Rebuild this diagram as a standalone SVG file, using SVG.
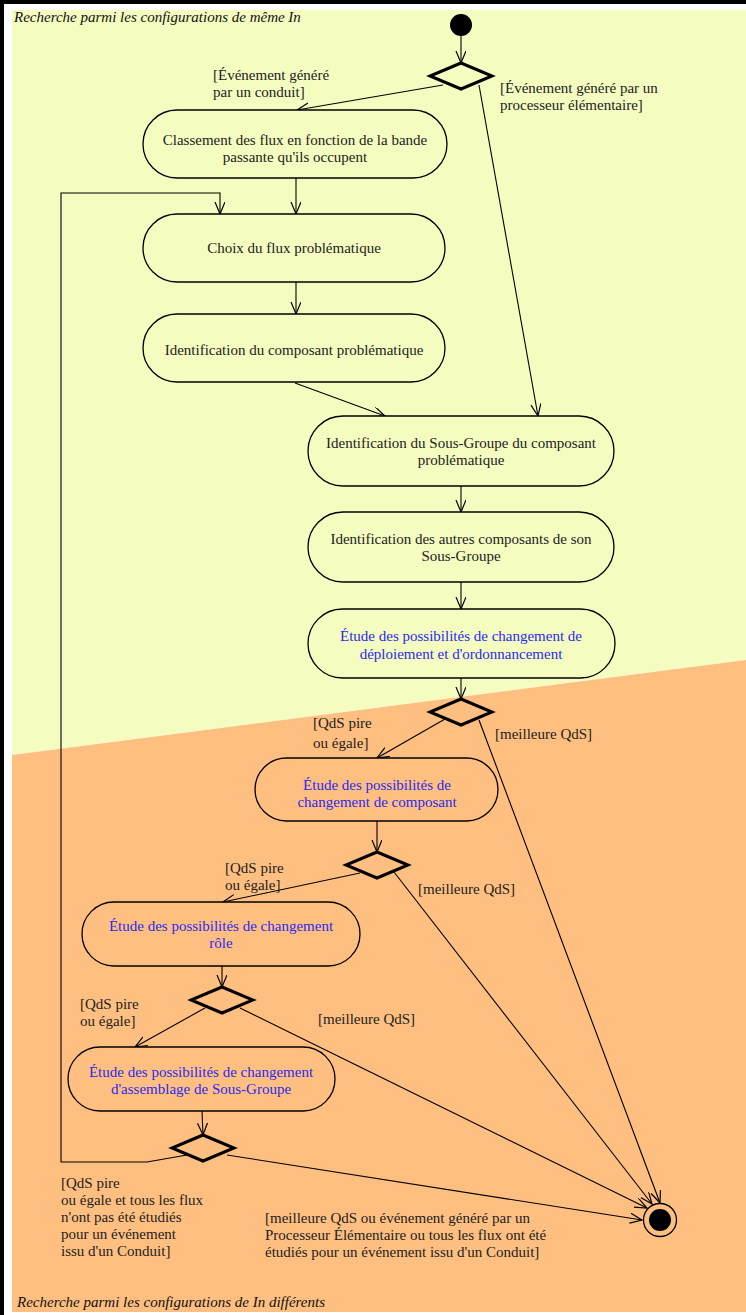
<svg xmlns="http://www.w3.org/2000/svg" width="746" height="1315" viewBox="0 0 746 1315">
<defs>
<marker id="arr" markerWidth="14" markerHeight="12" refX="12" refY="5" orient="auto" markerUnits="userSpaceOnUse">
<path d="M0,0 L12,5 L0,10" fill="none" stroke="#000" stroke-width="1.2"/>
</marker>
</defs>
<style>
.t{font-family:"Liberation Serif","Times New Roman",serif;font-size:15px;fill:#222}
.c{text-anchor:middle}
.b{fill:#2a2af2}
.i{font-style:italic;fill:#111}
.n{stroke:#000;stroke-width:1.3}
.ny{fill:#f5fcc0}
.no{fill:#ffbf80}
.d{stroke:#000;stroke-width:3;fill:none}
.e{stroke:#000;stroke-width:1.1;fill:none;marker-end:url(#arr)}
</style>
<rect x="0" y="0" width="746" height="1315" fill="#fff"/>
<polygon points="12,10 746,10 746,660 12,755" fill="#f5fcc0"/>
<polygon points="12,755 746,660 746,1312 12,1312" fill="#ffbf80"/>
<line x1="2" y1="0" x2="2" y2="1315" stroke="#000" stroke-width="4"/>
<line x1="0" y1="2" x2="746" y2="2" stroke="#000" stroke-width="4"/>
<text class="t i" x="14" y="22">Recherche parmi les configurations de même In</text>
<text class="t i" x="17" y="1307">Recherche parmi les configurations de In différents</text>

<g id="connectors">
<line class="e" x1="461" y1="36" x2="461" y2="63"/>
<line class="e" x1="443" y1="85" x2="297" y2="110"/>
<line class="e" x1="479" y1="85" x2="538" y2="416"/>
<line class="e" x1="296" y1="178" x2="296" y2="214"/>
<polyline class="e" points="187,1155 147,1162 61,1162 61,193 220,193 220,214"/>
<line class="e" x1="296" y1="282" x2="296" y2="314"/>
<line class="e" x1="295" y1="383" x2="385" y2="416"/>
<line class="e" x1="461" y1="486" x2="461" y2="512"/>
<line class="e" x1="461" y1="582" x2="461" y2="609"/>
<line class="e" x1="461" y1="678" x2="461" y2="699"/>
<line class="e" x1="445" y1="719" x2="377" y2="758"/>
<line class="e" x1="479" y1="720" x2="660" y2="1203"/>
<line class="e" x1="377" y1="821" x2="377" y2="852"/>
<line class="e" x1="360" y1="873" x2="223" y2="902"/>
<line class="e" x1="394" y1="872" x2="652" y2="1204"/>
<line class="e" x1="222" y1="966" x2="222" y2="987"/>
<line class="e" x1="205" y1="1008" x2="135" y2="1047"/>
<line class="e" x1="240" y1="1008" x2="647" y2="1208"/>
<line class="e" x1="202" y1="1111" x2="203" y2="1135"/>
<line class="e" x1="227" y1="1155" x2="642" y2="1220"/>
</g>

<g id="labels">
<text class="t" x="213" y="80">[Événement généré</text>
<text class="t" x="213" y="97">par un conduit]</text>
<text class="t" x="500" y="93">[Événement généré par un</text>
<text class="t" x="500" y="110">processeur élémentaire]</text>
<text class="t" x="313" y="728">[QdS pire</text>
<text class="t" x="313" y="748">ou égale]</text>
<text class="t" x="495" y="739">[meilleure QdS]</text>
<text class="t" x="225" y="873">[QdS pire</text>
<text class="t" x="225" y="890">ou égale]</text>
<text class="t" x="418" y="894">[meilleure QdS]</text>
<text class="t" x="80" y="1009">[QdS pire</text>
<text class="t" x="80" y="1026">ou égale]</text>
<text class="t" x="318" y="1024">[meilleure QdS]</text>
<text class="t" x="61" y="1188">[QdS pire</text>
<text class="t" x="61" y="1205">ou égale et tous les flux</text>
<text class="t" x="61" y="1222">n'ont pas été étudiés</text>
<text class="t" x="61" y="1239">pour un événement</text>
<text class="t" x="61" y="1256">issu d'un Conduit]</text>
<text class="t" x="265" y="1223">[meilleure QdS ou événement généré par un</text>
<text class="t" x="265" y="1240">Processeur Élémentaire ou tous les flux ont été</text>
<text class="t" x="265" y="1257">étudiés pour un événement issu d'un Conduit]</text>
</g>

<g id="start"><circle cx="461" cy="25" r="11" fill="#000"/></g>
<g id="dec1"><polygon class="d" points="461,63 492,76 461,89 430,76"/></g>
<g id="n-classement">
<rect class="n ny" x="143" y="110" width="304" height="68" rx="34"/>
<text class="t c" x="295" y="145">Classement des flux en fonction de la bande</text>
<text class="t c" x="295" y="162">passante qu'ils occupent</text>
</g>
<g id="n-choix">
<rect class="n ny" x="143" y="214" width="302" height="68" rx="34"/>
<text class="t c" x="294" y="253">Choix du flux problématique</text>
</g>
<g id="n-idcomp">
<rect class="n ny" x="143" y="314" width="302" height="68" rx="34"/>
<text class="t c" x="294" y="355">Identification du composant problématique</text>
</g>
<g id="n-idsg">
<rect class="n ny" x="308" y="416" width="306" height="70" rx="35"/>
<text class="t c" x="461" y="448">Identification du Sous-Groupe du composant</text>
<text class="t c" x="461" y="465">problématique</text>
</g>
<g id="n-autres">
<rect class="n ny" x="308" y="512" width="306" height="70" rx="35"/>
<text class="t c" x="461" y="544">Identification des autres composants de son</text>
<text class="t c" x="461" y="561">Sous-Groupe</text>
</g>
<g id="n-deploiement">
<rect class="n ny" x="308" y="609" width="307" height="69" rx="34.5"/>
<text class="t c b" x="461" y="641">Étude des possibilités de changement de</text>
<text class="t c b" x="461" y="659">déploiement et d'ordonnancement</text>
</g>
<g id="dec2"><polygon class="d" points="461,699 492,712 461,725 430,712"/></g>
<g id="n-composant">
<rect class="n no" x="255" y="758" width="243" height="63" rx="31.5"/>
<text class="t c b" x="377" y="790">Étude des possibilités de</text>
<text class="t c b" x="377" y="807">changement de composant</text>
</g>
<g id="dec3"><polygon class="d" points="377,852 408,865 377,878 346,865"/></g>
<g id="n-role">
<rect class="n no" x="82" y="902" width="278" height="64" rx="32"/>
<text class="t c b" x="221" y="931">Étude des possibilités de changement</text>
<text class="t c b" x="221" y="948">rôle</text>
</g>
<g id="dec4"><polygon class="d" points="222,987 253,1000 222,1013 191,1000"/></g>
<g id="n-assemblage">
<rect class="n no" x="68" y="1047" width="267" height="64" rx="32"/>
<text class="t c b" x="201" y="1077">Étude des possibilités de changement</text>
<text class="t c b" x="201" y="1094">d'assemblage de Sous-Groupe</text>
</g>
<g id="dec5"><polygon class="d" points="203,1135 234,1148 203,1161 172,1148"/></g>
<g id="end">
<circle cx="660" cy="1220" r="16.5" fill="#ffbf80" stroke="#000" stroke-width="1.3"/>
<circle cx="660" cy="1220" r="11" fill="#000"/>
</g>
</svg>
